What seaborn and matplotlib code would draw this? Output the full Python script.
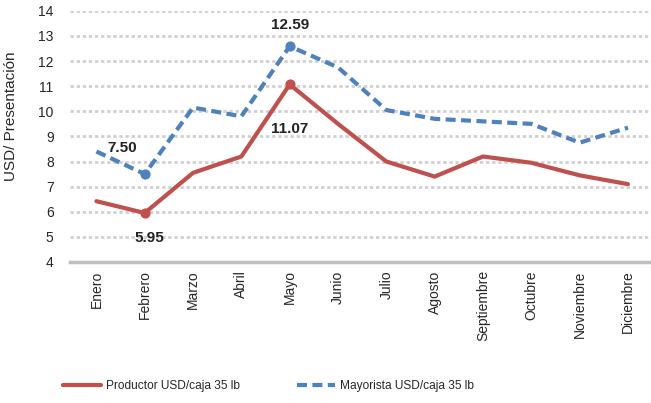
import pandas as pd
import numpy as np
import matplotlib
matplotlib.use("Agg")
import matplotlib.pyplot as plt
import seaborn as sns

meses = ["Enero", "Febrero", "Marzo", "Abril", "Mayo", "Junio", "Julio",
         "Agosto", "Septiembre", "Octubre", "Noviembre", "Diciembre"]
productor = [6.42, 5.95, 7.55, 8.2, 11.07, 9.5, 8.0, 7.4, 8.2, 7.95, 7.45, 7.1]
mayorista = [8.4, 7.50, 10.15, 9.8, 12.59, 11.75, 10.05, 9.7, 9.6, 9.5, 8.75, 9.35]

# puntos con etiqueta
marcados = ["Febrero", "Mayo"]

sns.set_style("white")
plt.rcParams["font.family"] = ["Liberation Sans", "DejaVu Sans"]

rojo = "#C0504D"
azul = "#4F81BD"

df = pd.DataFrame({"mes": meses, "Productor": productor, "Mayorista": mayorista})

fig = plt.figure(figsize=(6.51, 4.03), dpi=100)
ax = fig.add_axes([0.108, 0.35, 0.89, 0.623])

sns.lineplot(data=df, x="mes", y="Productor", color=rojo, linewidth=3,
             ax=ax, label="Productor USD/caja 35 lb", sort=False)
sns.lineplot(data=df, x="mes", y="Mayorista", color=azul, linewidth=3,
             linestyle=(0, (2.4, 1.3)), ax=ax, label="Mayorista USD/caja 35 lb", sort=False)

sub = df[df["mes"].isin(marcados)]
ax.scatter(sub["mes"], sub["Productor"], s=40, color=rojo, zorder=4)
ax.scatter(sub["mes"], sub["Mayorista"], s=40, color=azul, zorder=4)

# etiquetas
fb = dict(fontsize=11, fontweight="bold", color="#222222", ha="center", va="center")
ax.annotate(f"{mayorista[1]:.2f}", ("Febrero", mayorista[1]), xytext=(-16, 19), textcoords="offset points", **fb)
ax.annotate(f"{mayorista[4]:.2f}", ("Mayo", mayorista[4]), xytext=(0, 15), textcoords="offset points", **fb)
ax.annotate(f"{productor[4]:.2f}", ("Mayo", productor[4]), xytext=(0, -32), textcoords="offset points", **fb)
ax.annotate(f"{productor[1]:.2f}", ("Febrero", productor[1]), xytext=(3, -18), textcoords="offset points", **fb)

ax.set_ylim(4, 14)
ax.set_yticks(range(4, 15))
ax.set_xlim(-0.54, 11.45)
ax.yaxis.grid(True, color="#D0D0D0", linestyle=(0, (1.2, 1.0)), linewidth=2)
ax.set_axisbelow(True)
sns.despine(ax=ax, left=True, right=True, top=True)
ax.spines["bottom"].set_color("#BFBFBF")
ax.spines["bottom"].set_linewidth(2.5)
ax.tick_params(axis="x", rotation=90, labelsize=10, length=0, pad=6)
ax.tick_params(axis="y", labelsize=10, length=0, pad=12)
ax.set_xlabel("")
ax.set_ylabel("USD/ Presentación", fontsize=11)
ax.yaxis.set_label_coords(-0.09, 0.58)

ax.get_legend().remove()
h, l = ax.get_legend_handles_labels()
fig.legend(h, l, loc="lower left", bbox_to_anchor=(0.08, 0.0), ncol=2, frameon=False,
           handlelength=3.2, handletextpad=0.4, columnspacing=4.8, fontsize=8.6)

fig.savefig("out.png", dpi=100)
